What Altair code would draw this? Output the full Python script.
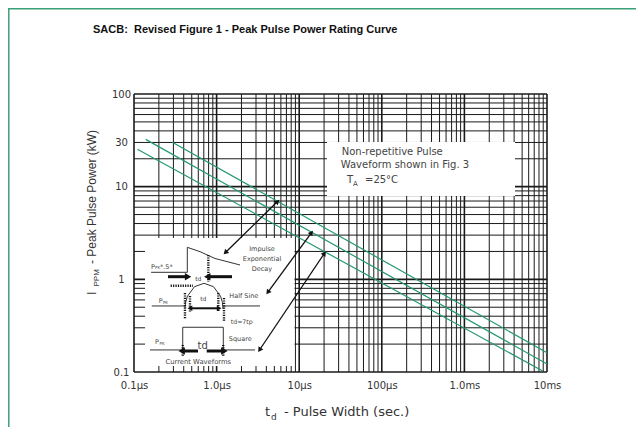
import altair as alt
import pandas as pd

# ---------------- chart data (pulse width in µs, peak power in kW) ----------------
curve_names = ["Impulse exponential decay", "Half sine", "Square"]
curve_t_start = [0.291, 0.1386, 0.110]
curve_p_start = [30.1, 32.4, 25.3]
curve_t_end = [10000, 10000, 8870]
curve_p_end = [0.1616, 0.122, 0.1026]

x_tick_values = [0.1, 1, 10, 100, 1000, 10000]
x_tick_labels = ["0.1µs", "1.0µs", "10µs", "100µs", "1.0ms", "10ms"]
y_tick_values = [0.1, 1, 10, 30, 100]
y_tick_labels = ["0.1", "1", "10", "30", "100"]

grid_multiples = [1, 2, 3, 4, 5, 6, 7, 8, 9]
x_decades = [0.1, 1, 10, 100, 1000]
y_decades = [0.1, 1, 10]

# white boxes (inset, note box)
box_t1 = [0.136, 21.7]
box_t2 = [8.77, 4099]
box_p1 = [0.116, 7.93]
box_p2 = [2.79, 30.34]

# inset waveform sketches
impulse_t = [0.161, 0.442, 0.442, 0.630, 0.956, 1.92]
impulse_p = [1.191, 1.191, 2.216, 1.988, 1.679, 1.428]
halfsine_t = [0.414, 0.421, 0.444, 0.540, 0.704, 0.917, 1.115, 1.176, 1.196]
halfsine_p = [0.479, 0.565, 0.658, 0.833, 0.906, 0.833, 0.658, 0.565, 0.479]
hs_base_l_t = [0.164, 0.414]
hs_base_r_t = [1.205, 3.353]
hs_base_p = [0.516, 0.516]
square_t = [0.156, 0.389, 0.389, 1.205, 1.205, 2.917]
square_p = [0.173, 0.173, 0.304, 0.304, 0.173, 0.173]

dotted_segments = [
    (0.794, 1.830, 0.794, 0.936),
    (0.278, 0.854, 0.518, 0.854),
    (0.414, 0.712, 0.414, 0.371),
    (0.476, 0.661, 0.476, 0.444),
    (1.049, 0.712, 1.049, 0.447),
    (1.229, 0.629, 1.229, 0.358),
    (0.389, 0.196, 0.389, 0.145),
    (1.205, 0.196, 1.205, 0.145),
]
thick_arrows = [
    (0.258, 1.068, 0.438, 1.068),
    (1.537, 1.068, 0.794, 1.068),
    (0.595, 0.1685, 0.389, 0.1685),
    (0.759, 0.1685, 1.205, 0.1685),
]
medium_arrows = [(0.486, 0.487, 1.049, 0.487)]
long_arrows = [
    (1.299, 1.972, 5.385, 6.83),
    (4.226, 0.736, 13.90, 3.139),
    (3.353, 0.176, 19.96, 1.877),
]
arrow_heads_t = [5.385, 1.299, 13.90, 4.226, 19.96, 3.353, 0.438, 0.794, 0.486, 1.049, 0.389, 1.205]
arrow_heads_p = [6.83, 1.972, 3.139, 0.736, 1.877, 0.176, 1.068, 1.068, 0.487, 0.487, 0.1685, 0.1685]
arrow_heads_ang = [45.6, 225.6, 36.2, 216.2, 33.9, 213.9, 90, 270, 270, 90, 270, 90]
arrow_heads_size = [32, 32, 32, 32, 32, 32, 55, 55, 30, 30, 55, 55]

inset_center_text = ["Impulse", "Exponential", "Decay", "Half Sine", "td=7tp", "Square",
                     "Current Waveforms", "td", "td", "td"]
inset_center_t = [3.545, 3.545, 3.545, 2.135, 2.013, 1.936, 0.600, 0.600, 0.690, 0.68]
inset_center_p = [2.110, 1.645, 1.283, 0.661, 0.344, 0.227, 0.129, 1.009, 0.618, 0.192]
inset_center_fs = [6.5, 6.5, 6.5, 6.5, 6.2, 6.5, 6.8, 6, 6, 10]

inset_left_text = ["P", "PK", "*.5*", "P", "PK", "P", "PK"]
inset_left_t = [0.161, 0.180, 0.206, 0.199, 0.224, 0.180, 0.2035]
inset_left_p = [1.369, 1.326, 1.369, 0.584, 0.556, 0.211, 0.2006]
inset_left_fs = [6.5, 4, 6.5, 6.5, 4, 6.5, 4]

note_text = ["Non-repetitive Pulse", "Waveform shown in Fig. 3", "T", "A", "=25°C"]
note_t = [32.7, 31.8, 37.9, 44.8, 62.6]
note_p = [21.96, 15.71, 10.95, 10.17, 10.95]
note_fs = [10, 10, 10, 7, 10]

# ---------------- build tables ----------------
curves = pd.DataFrame(
    [{"series": n, "t": t, "p": p, "o": 0} for n, t, p in zip(curve_names, curve_t_start, curve_p_start)]
    + [{"series": n, "t": t, "p": p, "o": 1} for n, t, p in zip(curve_names, curve_t_end, curve_p_end)]
)
grid_x = [round(d * m, 6) for d in x_decades for m in grid_multiples] + [10000]
grid_y = [round(d * m, 6) for d in y_decades for m in grid_multiples] + [100]
gx = pd.DataFrame({"t": grid_x, "major": [1 if round(v, 6) in x_tick_values else 0 for v in grid_x]})
gy = pd.DataFrame({"p": grid_y, "major": [1 if round(v, 6) in [0.1, 1, 10, 100] else 0 for v in grid_y]})
boxes = pd.DataFrame({"t": box_t1, "t2": box_t2, "p": box_p1, "p2": box_p2})

shapes = []
for name, ts, ps in [("imp", impulse_t, impulse_p), ("hs", halfsine_t, halfsine_p),
                     ("hsl", hs_base_l_t, hs_base_p), ("hsr", hs_base_r_t, hs_base_p),
                     ("sq", square_t, square_p)]:
    for i, (t, p) in enumerate(zip(ts, ps)):
        shapes.append({"shape": name, "t": t, "p": p, "o": i})
shapes = pd.DataFrame(shapes)


def segs(lst):
    return pd.DataFrame([{"t": a, "p": b, "t2": c, "p2": d} for a, b, c, d in lst])


heads = pd.DataFrame({"t": arrow_heads_t, "p": arrow_heads_p, "ang": arrow_heads_ang, "sz": arrow_heads_size})
ictext = pd.DataFrame({"label": inset_center_text, "t": inset_center_t, "p": inset_center_p, "fs": inset_center_fs})
iltext = pd.DataFrame({"label": inset_left_text, "t": inset_left_t, "p": inset_left_p, "fs": inset_left_fs})
ntext = pd.DataFrame({"label": note_text, "t": note_t, "p": note_p, "fs": note_fs})


def label_expr(vals, labs):
    return " : ".join(f"datum.value == {v} ? '{l}'" for v, l in zip(vals, labs)) + " : ''"


xs = alt.Scale(type="log", domain=[0.1, 10000], nice=False)
ys = alt.Scale(type="log", domain=[0.1, 100], nice=False)
xaxis = alt.Axis(values=x_tick_values, labelExpr=label_expr(x_tick_values, x_tick_labels),
                 grid=False, ticks=False, domain=False, title=None,
                 labelFont="DejaVu Sans", labelFontSize=10, labelColor="#333",
                 labelPadding=8, labelOverlap=False, labelFlush=False)
yaxis = alt.Axis(values=y_tick_values, labelExpr=label_expr(y_tick_values, y_tick_labels),
                 grid=False, ticks=False, domain=False, title=None,
                 labelFont="DejaVu Sans", labelFontSize=10, labelColor="#333",
                 labelAlign="center", labelBaseline="middle", labelPadding=13, labelOverlap=False)


def X(f="t"):
    return alt.X(f"{f}:Q", scale=xs, axis=xaxis)


def Y(f="p"):
    return alt.Y(f"{f}:Q", scale=ys, axis=yaxis)


W, H = 413, 278
BLACK = "#111"
GREEN = "#23996c"

vgrid = alt.Chart(gx).mark_rule(color="#1a1a1a").encode(
    x=X(), strokeWidth=alt.StrokeWidth("major:Q", scale=alt.Scale(domain=[0, 1], range=[1.0, 1.6]), legend=None))
hgrid = alt.Chart(gy).mark_rule(color="#1a1a1a").encode(
    y=Y(), strokeWidth=alt.StrokeWidth("major:Q", scale=alt.Scale(domain=[0, 1], range=[1.0, 1.6]), legend=None))
white = alt.Chart(boxes).mark_rect(color="white").encode(x=X(), x2="t2:Q", y=Y(), y2="p2:Q")

lines = alt.Chart(curves).mark_line(color=GREEN, strokeWidth=1.2).encode(
    x=X(), y=Y(), detail="series:N", order="o:Q")

wave = alt.Chart(shapes).mark_line(color="#333", strokeWidth=1).encode(
    x=X(), y=Y(), detail="shape:N", order="o:Q")
dotted = alt.Chart(segs(dotted_segments)).mark_rule(color=BLACK, strokeWidth=2.4, strokeDash=[1.2, 1.2]).encode(
    x=X(), y=Y(), x2="t2:Q", y2="p2:Q")
thick = alt.Chart(segs(thick_arrows)).mark_rule(color=BLACK, strokeWidth=3).encode(
    x=X(), y=Y(), x2="t2:Q", y2="p2:Q")
medium = alt.Chart(segs(medium_arrows)).mark_rule(color=BLACK, strokeWidth=2).encode(
    x=X(), y=Y(), x2="t2:Q", y2="p2:Q")
longa = alt.Chart(segs(long_arrows)).mark_rule(color=BLACK, strokeWidth=1.3).encode(
    x=X(), y=Y(), x2="t2:Q", y2="p2:Q")
headm = alt.Chart(heads).mark_point(shape="triangle", filled=True, color=BLACK, opacity=1).encode(
    x=X(), y=Y(), angle=alt.Angle("ang:Q", scale=None), size=alt.Size("sz:Q", scale=None, legend=None))

ict = alt.Chart(ictext).mark_text(align="center", baseline="middle", font="DejaVu Sans", color="#444").encode(
    x=X(), y=Y(), text="label:N", size=alt.Size("fs:Q", scale=None, legend=None))
ilt = alt.Chart(iltext).mark_text(align="left", baseline="middle", font="DejaVu Sans", color="#444").encode(
    x=X(), y=Y(), text="label:N", size=alt.Size("fs:Q", scale=None, legend=None))
nt = alt.Chart(ntext).mark_text(align="left", baseline="alphabetic", font="DejaVu Sans", color="#444").encode(
    x=X(), y=Y(), text="label:N", size=alt.Size("fs:Q", scale=None, legend=None))

one = pd.DataFrame({"a": [0]})
title = alt.Chart(one).mark_text(align="left", baseline="alphabetic", font="Liberation Sans", fontWeight="bold",
                                 fontSize=11, color="#111").encode(
    x=alt.value(-41), y=alt.value(-61), text=alt.value("SACB:\u00a0 Revised Figure 1 - Peak Pulse Power Rating Curve"))

ytitle_parts = ["I", "PPM", "- Peak Pulse Power (kW)"]
ytitle = alt.layer(
    alt.Chart(one).mark_text(align="left", baseline="alphabetic", angle=270, font="Liberation Sans",
                             fontSize=12.5, color="#333").encode(x=alt.value(-38), y=alt.value(201), text=alt.value(ytitle_parts[0])),
    alt.Chart(one).mark_text(align="left", baseline="alphabetic", angle=270, font="Liberation Sans",
                             fontSize=8, color="#333").encode(x=alt.value(-35.5), y=alt.value(192.5), text=alt.value(ytitle_parts[1])),
    alt.Chart(one).mark_text(align="left", baseline="alphabetic", angle=270, font="Liberation Sans",
                             fontSize=12, color="#333").encode(x=alt.value(-38), y=alt.value(170), text=alt.value(ytitle_parts[2])),
)
xtitle_parts = ["t", "d", "- Pulse Width (sec.)"]
xtitle = alt.layer(
    alt.Chart(one).mark_text(align="left", baseline="alphabetic", font="DejaVu Sans", fontSize=13,
                             color="#333").encode(x=alt.value(131), y=alt.value(322), text=alt.value(xtitle_parts[0])),
    alt.Chart(one).mark_text(align="left", baseline="alphabetic", font="DejaVu Sans", fontSize=9,
                             color="#333").encode(x=alt.value(137), y=alt.value(326), text=alt.value(xtitle_parts[1])),
    alt.Chart(one).mark_text(align="left", baseline="alphabetic", font="DejaVu Sans", fontSize=13,
                             color="#333").encode(x=alt.value(150), y=alt.value(322), text=alt.value(xtitle_parts[2])),
)

border = alt.layer(
    alt.Chart(one).mark_rule(color="#3aa078", strokeWidth=1.5).encode(
        x=alt.value(-125.2), y=alt.value(-86), y2=alt.value(H + 55)),
    alt.Chart(one).mark_rule(color="#3aa078", strokeWidth=1.5).encode(
        x=alt.value(-126), x2=alt.value(W + 89), y=alt.value(-85.2)),
)

chart = alt.layer(
    vgrid, hgrid, white, lines, wave, dotted, thick, medium, longa, headm,
    ict, ilt, nt, title, ytitle, xtitle, border
).properties(
    width=W, height=H,
    autosize=alt.AutoSizeParams(type="none"),
    padding={"left": 126, "top": 86, "right": 89, "bottom": 55},
    background="white",
).configure_view(strokeWidth=0)

chart.save("out.html", embed_options={"renderer": "svg", "actions": False})
